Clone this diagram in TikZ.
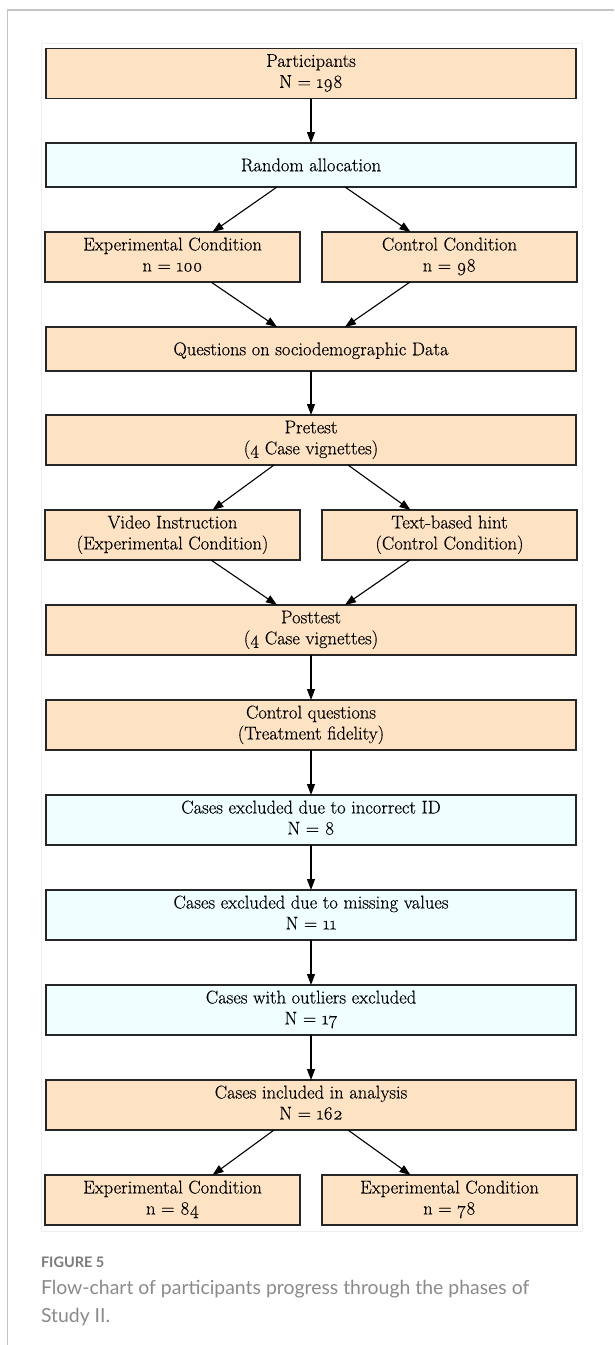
\documentclass[tikz,border=0pt]{standalone}
\usepackage{fontspec}
\usetikzlibrary{arrows.meta,calc}
\setmainfont{Latin Modern Roman}[Numbers=OldStyle]
\newfontfamily\capfont{Lato}
\newfontfamily\boxfont{Latin Modern Roman}[Numbers=OldStyle,UprightFeatures={FakeBold=0.3}]
\definecolor{boxor}{HTML}{FDE2C4}
\definecolor{boxaz}{HTML}{EFFEFE}
\definecolor{framegray}{HTML}{C4C4C4}
\definecolor{faintgray}{HTML}{EFEFEF}
\definecolor{capgray}{HTML}{7A7A7A}
\definecolor{captext}{HTML}{8A8A8A}
\begin{document}
\begin{tikzpicture}[x=1pt,y=-1pt,
  every node/.style={inner sep=0pt,outer sep=0pt},
  flowbox/.style={draw=black!85,line width=1.2pt,align=center,
     font=\boxfont\fontsize{18.5}{21}\selectfont,text=black,
     execute at begin node={\rule{0pt}{17.5pt}},
     execute at end node={\rule[-5pt]{0pt}{5pt}}},
  wide/.style={flowbox,minimum width=530pt},
  half/.style={flowbox,minimum width=255pt},
  tall/.style={minimum height=50pt},
  low/.style={minimum height=44pt},
  orange/.style={fill=boxor},
  azure/.style={fill=boxaz},
  conn/.style={line width=1.1pt,-{Triangle[length=11pt,width=8pt]}}]
\useasboundingbox (0,0) rectangle (614,1345);
% page frame
\draw[framegray,line width=1.3pt] (7.5,1345) -- (7.5,10) -- (614,10);
\draw[faintgray,line width=0.8pt] (41,43) rectangle (582,1231);
% nodes
\node[wide,tall,orange] (part) at (311,73.5) {Participants\\N = 198};
\node[wide,low,azure] (rand) at (311,165) {Random allocation};
\node[half,tall,orange] (exp) at (172.5,257) {Experimental Condition\\n = 100};
\node[half,tall,orange] (ctl) at (449.5,257) {Control Condition\\n = 98};
\node[wide,low,orange] (quest) at (311,349) {Questions on sociodemographic Data};
\node[wide,tall,orange] (pre) at (311,440) {Pretest\\(4 Case vignettes)};
\node[half,tall,orange] (video) at (172.5,535) {Video Instruction\\(Experimental Condition)};
\node[half,tall,orange] (hint) at (449.5,535) {Text-based hint\\(Control Condition)};
\node[wide,tall,orange] (post) at (311,630) {Posttest\\(4 Case vignettes)};
\node[wide,tall,orange] (cq) at (311,725) {Control questions\\(Treatment fidelity)};
\node[wide,tall,azure] (exid) at (311,820) {Cases excluded due to incorrect ID\\N = 8};
\node[wide,tall,azure] (exmis) at (311,915) {Cases excluded due to missing values\\N = 11};
\node[wide,tall,azure] (exout) at (311,1010) {Cases with outliers excluded\\N = 17};
\node[wide,tall,orange] (incl) at (311,1105) {Cases included in analysis\\N = 162};
\node[half,tall,orange] (fexp) at (172.5,1200) {Experimental Condition\\n = 84};
\node[half,tall,orange] (fctl) at (449.5,1200) {Experimental Condition\\n = 78};
% connectors
\draw[conn] (part) -- (rand);
\draw[conn] ([xshift=-34pt]rand.south) -- ([xshift=40pt]exp.north);
\draw[conn] ([xshift=34pt]rand.south) -- ([xshift=-39pt]ctl.north);
\draw[conn] ([xshift=38.5pt]exp.south) -- ([xshift=-34pt]quest.north);
\draw[conn] ([xshift=-39.5pt]ctl.south) -- ([xshift=34pt]quest.north);
\draw[conn] (quest) -- (pre);
\draw[conn] ([xshift=-37pt]pre.south) -- ([xshift=40pt]video.north);
\draw[conn] ([xshift=37pt]pre.south) -- ([xshift=-39pt]hint.north);
\draw[conn] ([xshift=38.5pt]video.south) -- ([xshift=-34pt]post.north);
\draw[conn] ([xshift=-39.5pt]hint.south) -- ([xshift=34pt]post.north);
\draw[conn] (post) -- (cq);
\draw[conn] (cq) -- (exid);
\draw[conn] (exid) -- (exmis);
\draw[conn] (exmis) -- (exout);
\draw[conn] (exout) -- (incl);
\draw[conn] ([xshift=-37pt]incl.south) -- ([xshift=40pt]fexp.north);
\draw[conn] ([xshift=37pt]incl.south) -- ([xshift=-39pt]fctl.north);
% caption
\node[anchor=base west,text=capgray,font=\capfont\bfseries\fontsize{14.5}{16}\selectfont] (figlab) at (41,1267) {FIGURE 5};
\node[anchor=base west,text=captext,align=left,font=\capfont\fontsize{19.4}{28}\selectfont] (cap) at (41,1322)
  {Flow-chart of participants progress through the phases of\\Study II.};
\end{tikzpicture}
\end{document}
